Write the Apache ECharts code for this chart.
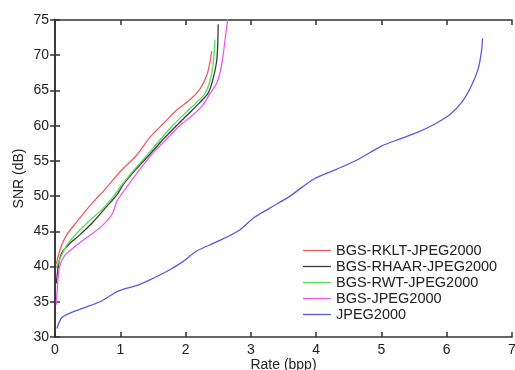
<!DOCTYPE html>
<html><head><meta charset="utf-8">
<script src="https://cdn.jsdelivr.net/npm/echarts@6/dist/echarts.min.js"></script>
<style>html,body{margin:0;padding:0;background:#fff}#c{width:515px;height:370px}</style>
</head><body><div id="c"></div>
<script>
const seriesNames = ['BGS-RKLT-JPEG2000','BGS-RHAAR-JPEG2000','BGS-RWT-JPEG2000','BGS-JPEG2000','JPEG2000'];
const xTicks = [0,1,2,3,4,5,6,7];
const yTicks = [30,35,40,45,50,55,60,65,70,75];

const rkltRate = [0.02,0.05,0.10,0.18,0.33,0.55,0.77,1.00,1.25,1.45,1.66,1.86,2.07,2.22,2.32,2.37,2.40];
const rkltSnr  = [40.3,41.5,43.0,44.5,46.3,48.8,51.0,53.5,55.8,58.3,60.3,62.2,63.7,65.2,67.0,68.8,70.6];

const rhaarRate = [0.02,0.05,0.10,0.23,0.38,0.59,0.79,0.95,1.05,1.25,1.45,1.66,1.86,2.07,2.22,2.35,2.42,2.48,2.50];
const rhaarSnr  = [37.6,40.0,41.9,43.3,44.5,46.4,48.5,50.2,51.7,53.9,55.9,58.1,60.0,61.9,63.3,64.7,66.6,69.5,74.4];

const rwtRate = [0.02,0.08,0.18,0.33,0.54,0.74,0.90,1.00,1.20,1.40,1.61,1.81,2.02,2.17,2.30,2.37,2.42,2.45];
const rwtSnr  = [39.8,41.2,43.0,44.7,46.6,48.3,50.0,51.3,53.6,55.7,58.0,60.1,62.0,63.3,64.6,66.2,68.5,72.2];

const bgsRate = [0.02,0.04,0.07,0.15,0.30,0.50,0.70,0.88,0.95,1.10,1.30,1.51,1.71,1.91,2.12,2.27,2.37,2.48,2.55,2.60,2.65];
const bgsSnr  = [34.6,37.5,40.0,41.6,42.8,44.2,45.6,47.5,49.3,51.3,53.8,56.2,58.1,60.0,61.6,63.0,64.5,66.1,68.5,71.8,75.5];

const jpRate = [0.03,0.10,0.23,0.43,0.69,0.97,1.28,1.45,1.71,1.96,2.17,2.50,2.83,3.04,3.29,3.60,3.96,4.31,4.64,5.00,5.28,5.54,5.79,6.05,6.23,6.38,6.48,6.53,6.55];
const jpSnr  = [31.2,32.7,33.4,34.1,35.0,36.5,37.4,38.1,39.3,40.7,42.2,43.6,45.2,46.9,48.3,50.0,52.4,53.8,55.2,57.1,58.1,59.0,60.1,61.6,63.3,65.7,68.0,70.4,72.4];

const colors = ['#ee5c5c','#3c3c3c','#58dd58','#ee58ee','#5a5ae0'];
const rates = [rkltRate, rhaarRate, rwtRate, bgsRate, jpRate];
const snrs = [rkltSnr, rhaarSnr, rwtSnr, bgsSnr, jpSnr];

const font = 'Liberation Sans, Arial, Helvetica, sans-serif';
const axisLine = {show:true, lineStyle:{color:'#333', width:1.6}};
const tick = {show:true, inside:true, length:5, lineStyle:{color:'#333', width:1.5}};

const chart = echarts.init(document.getElementById('c'), null, {renderer:'canvas'});
chart.setOption({
  animation:false,
  backgroundColor:'#fff',
  grid:{left:55, right:3, top:20, bottom:33, containLabel:false, outerBoundsMode:'none'},
  legend:{
    orient:'vertical', left:298, top:238, padding:5, itemWidth:28, itemHeight:14, itemGap:1,
    textStyle:{fontFamily:font, fontSize:14.5, color:'#222'},
    data:seriesNames.map((n,i)=>({name:n, icon:'path://M0,0 L28,0 L28,1.3 L0,1.3 Z'}))
  },
  xAxis:[
    {type:'value', min:0, max:7, interval:1, position:'bottom',
     name:'Rate (bpp)', nameLocation:'middle', nameGap:21, nameMoveOverlap:false,
     nameTextStyle:{fontFamily:font, fontSize:14, color:'#222'},
     axisLine:axisLine, axisTick:tick, splitLine:{show:false},
     axisLabel:{fontFamily:font, fontSize:14, color:'#222', margin:6}},
    {type:'value', min:0, max:7, interval:1, position:'top',
     axisLine:axisLine, axisTick:tick, splitLine:{show:false}, axisLabel:{show:false}}
  ],
  yAxis:[
    {type:'value', min:30, max:75, interval:5, position:'left',
     name:'SNR (dB)', nameLocation:'middle', nameGap:29, nameRotate:90, nameMoveOverlap:false,
     nameTextStyle:{fontFamily:font, fontSize:14, color:'#222'},
     axisLine:axisLine, axisTick:tick, splitLine:{show:false},
     axisLabel:{fontFamily:font, fontSize:14, color:'#222', margin:6}},
    {type:'value', min:30, max:75, interval:5, position:'right',
     axisLine:axisLine, axisTick:tick, splitLine:{show:false}, axisLabel:{show:false}}
  ],
  series: seriesNames.map((n,i)=>({
    name:n, type:'line', showSymbol:false, symbol:'none', smooth:0.3, clip:true,
    color:colors[i],
    lineStyle:{color:colors[i], width:1.3},
    data: rates[i].map((r,j)=>[r, snrs[i][j]])
  }))
});
</script></body></html>
